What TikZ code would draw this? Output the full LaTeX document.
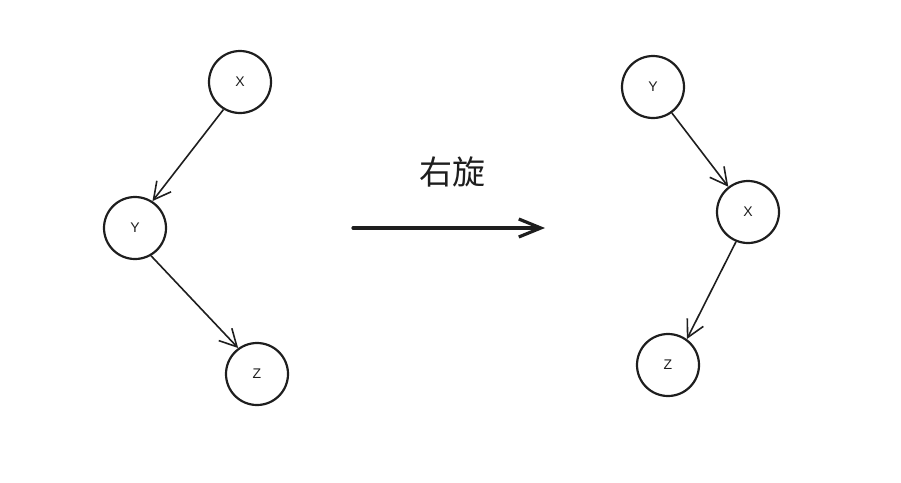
\documentclass[tikz,border=0pt]{standalone}
\usepackage{fontspec}
\setsansfont{Liberation Sans}
\newfontfamily\cjk{Noto Sans CJK SC}
\usetikzlibrary{arrows.meta}
\definecolor{ink}{HTML}{1E1E1E}

\begin{document}
\begin{tikzpicture}[x=1pt, y=-1pt, ink]
	\tikzset{
	  VertexStyle/.style = { circle, draw, line width = 2.2pt,
	                         minimum size = 62pt, inner sep = 0pt,
	                         font = \sffamily\fontsize{14}{14}\selectfont },
	  EdgeStyle/.style = { line width = 1.6pt,
	                       -{Straight Barb[length=17pt, width=18pt]} },
	  TurnStyle/.style = { line width = 3.2pt, line cap = round,
	                       -{Straight Barb[length=22pt, width=18pt]} },
	  LabelStyle/.style = { font = \cjk\fontsize{33}{33}\selectfont } }
	\useasboundingbox (0, 0) rectangle (901, 482);
	% before
	\node[VertexStyle] (X1) at (240, 82) {X};
	\node[VertexStyle] (Y1) at (135, 228) {Y};
	\node[VertexStyle] (Z1) at (257, 374) {Z};
	% after
	\node[VertexStyle] (Y2) at (653, 87) {Y};
	\node[VertexStyle] (X2) at (748, 212) {X};
	\node[VertexStyle] (Z2) at (668, 365) {Z};
	\draw[EdgeStyle] (X1.239) -- (Y1.57);
	\draw[EdgeStyle] (Y1.300) -- (Z1.126);
	\draw[EdgeStyle] (Y2.306) -- (X2.128);
	\draw[EdgeStyle] (X2.248) -- (Z2.54);
	% rotation
	\coordinate (from) at (353, 228);
	\coordinate (to) at (545, 228);
	\node[LabelStyle] (turn) at (452, 172) {右旋};
	\draw[TurnStyle] (from) -- (to);
\end{tikzpicture}
\end{document}
